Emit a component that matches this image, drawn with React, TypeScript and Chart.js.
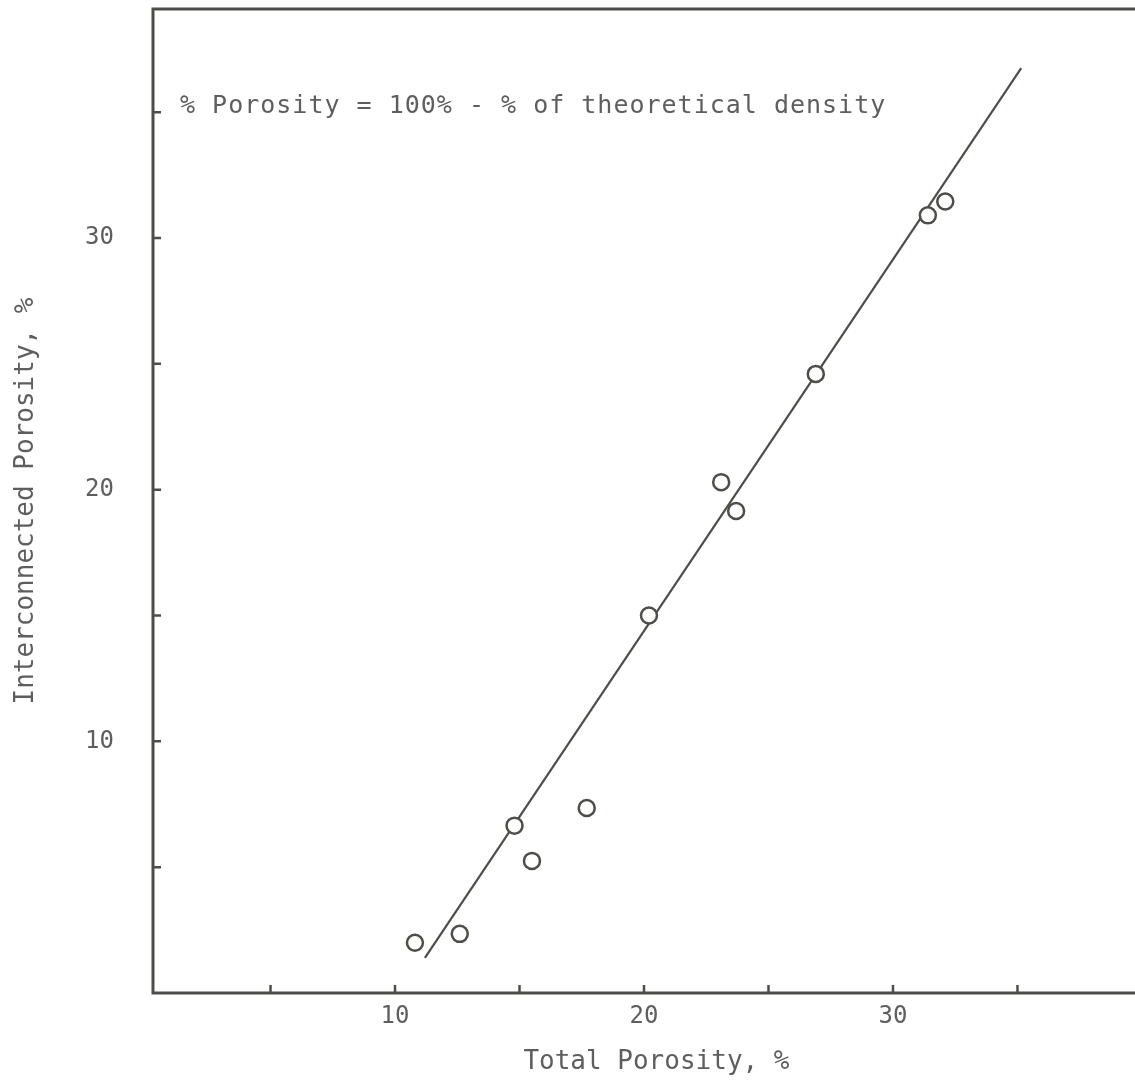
import React, { useEffect, useRef } from "react";
import { Chart, registerables } from "chart.js";

Chart.register(...registerables);

// Data
const totalPorosity = [10.8, 12.6, 14.8, 15.5, 17.7, 20.2, 23.1, 23.7, 26.9, 31.4, 32.1];
const interconnectedPorosity = [2.0, 2.35, 6.65, 5.25, 7.35, 15.0, 20.3, 19.15, 24.6, 30.9, 31.45];
const fitLineX = [11.2, 35.15];
const fitLineY = [1.4, 36.75];
const xTickLabels = [10, 20, 30];
const yTickLabels = [10, 20, 30];
const minorTicks = [5, 10, 15, 20, 25, 30, 35];
const xTitle = "Total Porosity, %";
const yTitle = "Interconnected Porosity, %";
const noteText = "% Porosity = 100% - % of theoretical density";

const AXIS_COLOR = "#4c4f47";
const TEXT_COLOR = "#5e5e5e";
const FONT = '"DejaVu Sans Mono", "Liberation Mono", monospace';

const framePlugin = {
  id: "frame",
  afterDatasetsDraw(chart: any) {
    const { ctx, chartArea, scales } = chart;
    const { left, right, top, bottom } = chartArea;
    const x = scales.x;
    const y = scales.y;
    ctx.save();
    ctx.strokeStyle = AXIS_COLOR;
    ctx.lineWidth = 3;
    ctx.lineCap = "square";
    ctx.beginPath();
    ctx.moveTo(right + 5, top);
    ctx.lineTo(left, top);
    ctx.lineTo(left, bottom);
    ctx.lineTo(right + 5, bottom);
    ctx.stroke();
    ctx.lineWidth = 2.5;
    ctx.lineCap = "butt";
    ctx.beginPath();
    for (const v of minorTicks) {
      const px = x.getPixelForValue(v);
      ctx.moveTo(px, bottom);
      ctx.lineTo(px, bottom - 8);
      const py = y.getPixelForValue(v);
      ctx.moveTo(left, py);
      ctx.lineTo(left + 8, py);
    }
    ctx.stroke();
    ctx.fillStyle = TEXT_COLOR;
    ctx.textBaseline = "middle";
    // note
    ctx.font = `25px ${FONT}`;
    (ctx as any).letterSpacing = "1px";
    ctx.textAlign = "left";
    ctx.fillText(noteText, left + 27, top + 97);
    (ctx as any).letterSpacing = "0px";
    // x axis title
    ctx.font = `26px ${FONT}`;
    ctx.textAlign = "center";
    ctx.fillText(xTitle, x.getPixelForValue(20.5), bottom + 69);
    ctx.restore();
  },
};

const zeroPadding = (s: any) => {
  s.paddingTop = 0;
  s.paddingBottom = 0;
  s.paddingLeft = 0;
  s.paddingRight = 0;
};

export default function App() {
  const canvasRef = useRef<HTMLCanvasElement | null>(null);

  useEffect(() => {
    document.body.style.margin = "0";
    document.body.style.overflow = "hidden";
    const canvas = canvasRef.current;
    if (!canvas) return;

    const points = totalPorosity.map((v, i) => ({ x: v, y: interconnectedPorosity[i] }));
    const line = fitLineX.map((v, i) => ({ x: v, y: fitLineY[i] }));

    const chart = new Chart(canvas, {
      type: "scatter",
      data: {
        datasets: [
          {
            label: "data",
            data: points,
            order: 0,
            pointRadius: 8,
            pointBorderWidth: 2.5,
            pointBackgroundColor: "#ffffff",
            pointBorderColor: AXIS_COLOR,
            showLine: false,
          },
          {
            label: "fit",
            data: line,
            order: 1,
            showLine: true,
            pointRadius: 0,
            borderColor: AXIS_COLOR,
            borderWidth: 2.2,
          },
        ],
      },
      options: {
        responsive: false,
        animation: false,
        devicePixelRatio: 1,
        layout: { autoPadding: false, padding: { top: 9, right: 0, left: 0, bottom: 0 } },
        plugins: {
          legend: { display: false },
          tooltip: { enabled: false },
        },
        scales: {
          x: {
            type: "linear",
            min: 0.28,
            max: 39.72,
            grid: { display: false, drawTicks: false },
            border: { display: false },
            afterBuildTicks: (s: any) => {
              s.ticks = xTickLabels.map((v) => ({ value: v }));
            },
            afterFit: (s: any) => {
              s.height = 90;
              zeroPadding(s);
            },
            ticks: {
              padding: 9,
              color: TEXT_COLOR,
              font: { family: FONT, size: 24 },
              maxRotation: 0,
            },
            title: { display: false },
          },
          y: {
            type: "linear",
            min: 0,
            max: 39.1,
            grid: { display: false, drawTicks: false },
            border: { display: false },
            afterBuildTicks: (s: any) => {
              s.ticks = yTickLabels.map((v) => ({ value: v }));
            },
            afterFit: (s: any) => {
              s.width = 153;
              zeroPadding(s);
            },
            ticks: {
              padding: 39,
              color: TEXT_COLOR,
              font: { family: FONT, size: 24 },
            },
            title: {
              display: true,
              text: yTitle,
              color: TEXT_COLOR,
              font: { family: FONT, size: 26 },
              padding: { top: 11, bottom: 0 },
            },
          },
        },
      },
      plugins: [framePlugin],
    });

    return () => chart.destroy();
  }, []);

  return (
    <div style={{ width: 1135, height: 1083, background: "#ffffff" }}>
      <canvas ref={canvasRef} width={1135} height={1083} style={{ display: "block" }} />
    </div>
  );
}
